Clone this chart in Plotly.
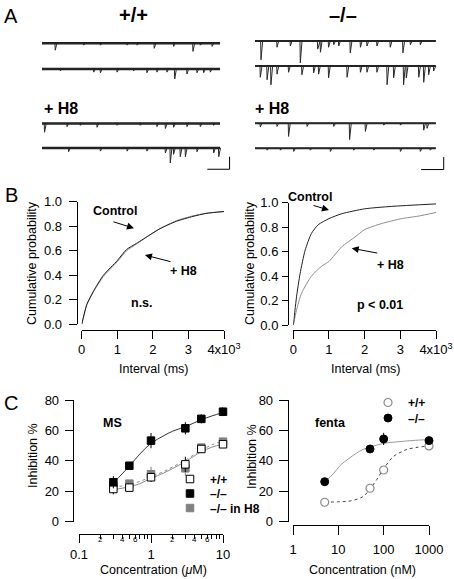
import numpy as np
import plotly.graph_objects as go

FONT = "Liberation Sans, Arial, Helvetica, sans-serif"
W, H = 454, 579


def fx(p):
    return p / W


def fy(p):
    return 1 - p / H


# ---------------- Panel A : spontaneous events (time in s, amplitude in pA) ----------------
WT_CTRL1_T = [0.58, 1.86, 2.61, 3.81, 4.26, 5.03, 5.90, 6.77, 7.10, 7.63]
WT_CTRL1_A = [11, 3, 3, 3, 3, 8, 5, 13, 3, 5]
WT_CTRL2_T = [0.81, 2.31, 2.61, 3.36, 4.10, 4.70, 5.15, 5.60, 5.95, 6.50, 6.95, 7.25, 7.55]
WT_CTRL2_A = [3, 5, 6, 5, 3, 6, 5, 5, 16, 8, 6, 6, 5]
WT_H8_1_T = [0.10, 1.11, 1.71, 2.46, 3.36, 4.40, 5.15, 5.53, 5.90, 6.50, 7.10, 7.70]
WT_H8_1_A = [14, 5, 3, 6, 3, 3, 5, 8, 6, 5, 5, 3]
WT_H8_2_T = [1.18, 2.61, 3.81, 4.70, 5.53, 5.75, 5.90, 6.20, 6.43, 6.95, 7.70, 7.93]
WT_H8_2_A = [6, 5, 5, 5, 8, 24, 10, 14, 14, 6, 8, 14]
KO_CTRL1_T = [0.25, 0.96, 1.55, 1.99, 2.76, 2.88, 3.24, 3.47, 3.69, 4.20, 4.65, 4.94, 5.38, 5.97, 6.53, 6.86, 7.30]
KO_CTRL1_A = [30, 10, 8, 35, 13, 18, 10, 6, 8, 19, 10, 8, 8, 10, 19, 6, 6]
KO_CTRL2_T = [0.22, 0.52, 0.69, 0.96, 1.47, 2.06, 2.58, 2.80, 3.24, 4.06, 4.65, 4.94, 5.38,
              5.83, 6.12, 6.56, 6.68, 7.23, 7.45, 7.67, 7.89]
KO_CTRL2_A = [18, 22, 30, 13, 10, 14, 11, 13, 19, 18, 10, 10, 10, 30, 19, 30, 19, 18, 26, 14, 8]
KO_H8_1_T = [0.22, 0.96, 1.47, 2.29, 3.47, 4.17, 4.87, 5.68, 6.42, 7.45, 7.60]
KO_H8_1_A = [6, 5, 21, 5, 5, 26, 13, 3, 3, 11, 8]
KO_H8_2_T = [0.52, 1.11, 1.70, 2.43, 3.32, 4.35, 5.24, 6.42, 7.30, 7.74]
KO_H8_2_A = [3, 3, 5, 3, 5, 3, 3, 5, 5, 3]
TRACE_DURATION_S = 8.0
SCALE_T_S = 1.0
SCALE_I_PA = 20

# ---------------- Panel B : cumulative probability of inter-event interval (ms) ----------------
B_WT_CTRL_T = [0, 50, 140, 330, 610, 1000, 1260, 1540, 1920, 2200, 2660, 3130, 3500, 4000]
B_WT_CTRL_P = [0, 0.06, 0.16, 0.27, 0.40, 0.52, 0.61, 0.66, 0.73, 0.78, 0.84, 0.88, 0.905, 0.92]
B_WT_H8_T = [0, 50, 140, 330, 610, 1000, 1260, 1540, 1920, 2200, 2660, 3130, 3500, 4000]
B_WT_H8_P = [0, 0.055, 0.155, 0.265, 0.39, 0.51, 0.60, 0.655, 0.73, 0.78, 0.845, 0.885, 0.905, 0.92]
B_KO_CTRL_T = [0, 47, 90, 190, 330, 510, 700, 1000, 1360, 2000, 2760, 4000]
B_KO_CTRL_P = [0, 0.12, 0.23, 0.42, 0.61, 0.75, 0.82, 0.87, 0.91, 0.95, 0.97, 0.99]
B_KO_H8_T = [0, 90, 230, 510, 790, 1000, 1360, 1730, 2000, 2480, 3040, 3500, 4000]
B_KO_H8_P = [0, 0.12, 0.26, 0.40, 0.48, 0.52, 0.64, 0.72, 0.78, 0.83, 0.87, 0.89, 0.92]
B_X_TICKS = [0, 1000, 2000, 3000, 4000]
B_X_TICKTEXT = ["0", "1", "2", "3", "4x10<sup>3</sup>"]
B_Y_TICKS = [0, 0.2, 0.4, 0.6, 0.8, 1.0]

# ---------------- Panel C : MS (uM) ----------------
MS_CONC = [0.3, 0.5, 1, 3, 5, 10]
MS_WT = [21.5, 22.4, 29.2, 37.7, 47.8, 50.9]
MS_WT_ERR = [3.5, 2, 3, 5, 2, 2]
MS_KO = [25.9, 36.8, 53.3, 61.4, 67.6, 72.3]
MS_KO_ERR = [4, 2, 5, 4, 3, 3]
MS_H8 = [23.5, 25.0, 31.2, 35.1, 48.7, 52.6]
MS_H8_ERR = [2, 2, 5, 5, 2, 2]
MS_FIT_CONC = [0.3, 0.5, 0.7, 1, 1.5, 2, 3, 5, 7, 10]
MS_FIT_KO = [25.5, 36.5, 44.5, 51.5, 56.5, 59.5, 62.5, 67, 69.5, 71.8]
MS_FIT_WT = [21, 23, 25, 28.5, 32, 35, 39.5, 46, 49, 51]
MS_FIT_H8 = [22.5, 24.5, 26.5, 29.5, 33, 36, 40.5, 47, 50.5, 53]
MS_MAJOR_TICKS = [0.1, 1, 10]
MS_MINOR_TICKS = [0.2, 0.3, 0.4, 0.5, 0.6, 0.7, 0.8, 0.9, 2, 3, 4, 5, 6, 7, 8, 9]
MS_MINOR_LABELS = [0.2, 0.4, 0.6, 2, 4, 6]

# ---------------- Panel C : fentanyl (nM) ----------------
FENTA_CONC = [5, 50, 100, 1000]
FENTA_WT = [12.8, 22.0, 34.0, 49.8]
FENTA_WT_ERR = [2, 2, 2, 3]
FENTA_KO = [26.3, 47.8, 54.4, 53.3]
FENTA_KO_ERR = [2, 2, 4, 2]
FENTA_FIT_KO_CONC = [5, 8, 11, 17, 25, 35, 50, 100, 200, 500, 1000]
FENTA_FIT_KO = [26, 32, 37, 41.5, 45, 47.5, 49, 51.5, 52.5, 53.5, 54]
FENTA_FIT_WT_CONC = [5, 10, 18, 35, 50, 70, 100, 163, 250, 325, 500, 1000]
FENTA_FIT_WT = [12.8, 13.1, 13.6, 16.5, 21.5, 27.6, 34.8, 42.8, 46, 47.5, 48.7, 49.8]
FENTA_TICKS = [1, 10, 100, 1000]
C_Y_TICKS = [0, 20, 40, 60, 80]

fig = go.Figure()
layout = dict(
    template="none",
    width=W, height=H, margin=dict(l=0, r=0, t=0, b=0, pad=0, autoexpand=False), autosize=False,
    paper_bgcolor="white", plot_bgcolor="rgba(0,0,0,0)",
    font=dict(family=FONT, size=13, color="black"),
    showlegend=True,
)


def event_trace(times, amps):
    xs, ys = [0.0], [0.0]
    for t, a in sorted(zip(times, amps)):
        xs += [t, t + 0.015, t + 0.09]
        ys += [0, -a, 0]
    xs.append(TRACE_DURATION_S)
    ys.append(0)
    return xs, ys


# ---- Panel A axes & traces ----
A_ROWS = [
    (WT_CTRL1_T, WT_CTRL1_A, 42, 22.25, 43.3),
    (WT_CTRL2_T, WT_CTRL2_A, 42, 22.25, 69.0),
    (WT_H8_1_T, WT_H8_1_A, 42, 22.25, 123.5),
    (WT_H8_2_T, WT_H8_2_A, 42, 22.25, 148.0),
    (KO_CTRL1_T, KO_CTRL1_A, 255, 22.6, 41.0),
    (KO_CTRL2_T, KO_CTRL2_A, 255, 22.6, 66.0),
    (KO_H8_1_T, KO_H8_1_A, 255, 22.6, 123.3),
    (KO_H8_2_T, KO_H8_2_A, 255, 22.6, 148.3),
]
PA_PER_PX = 1.6
for i, (tt, aa, x0, pps, base) in enumerate(A_ROWS, start=1):
    xn = "x" if i == 1 else f"x{i}"
    yn = "y" if i == 1 else f"y{i}"
    xk = "xaxis" if i == 1 else f"xaxis{i}"
    yk = "yaxis" if i == 1 else f"yaxis{i}"
    layout[xk] = dict(domain=[fx(x0), fx(x0 + 8.6 * pps)], range=[0, 8.6], visible=False,
                      anchor=yn, fixedrange=True, automargin=False)
    layout[yk] = dict(domain=[fy(base + 27), fy(base - 5)], range=[-27 * PA_PER_PX, 5 * PA_PER_PX],
                      visible=False, anchor=xn, fixedrange=True, automargin=False)
    # recording noise band along the baseline
    band = 2.4 if i <= 4 else 2.0
    fig.add_trace(go.Scatter(x=[0, TRACE_DURATION_S], y=[0, 0], mode="lines", xaxis=xn, yaxis=yn,
                             showlegend=False, line=dict(color="#1e1e1e", width=band), hoverinfo="skip"))
    xs, ys = event_trace(tt, aa)
    fig.add_trace(go.Scatter(x=xs, y=ys, mode="lines", xaxis=xn, yaxis=yn, showlegend=False,
                             line=dict(color="#2a2a2a", width=1), hoverinfo="skip"))
    if i in (4, 8):
        sx = 7.43 if i == 4 else 7.35
        fig.add_trace(go.Scatter(
            x=[sx, sx + SCALE_T_S, sx + SCALE_T_S],
            y=[-14 - SCALE_I_PA, -14 - SCALE_I_PA, -14],
            mode="lines", xaxis=xn, yaxis=yn, showlegend=False,
            line=dict(color="black", width=1), hoverinfo="skip"))


# ---- common axis style ----
def ax_style(**kw):
    d = dict(showline=True, linecolor="black", linewidth=1, ticks="outside", tickcolor="black",
             tickwidth=1, showgrid=False, zeroline=False, anchor="free", fixedrange=True,
             automargin=False, tickfont=dict(family=FONT, size=13, color="black"))
    d.update(kw)
    return d


# Panel B left (x9/y9)
layout["xaxis9"] = ax_style(domain=[fx(81.7), fx(224)], range=[0, 4000], position=fy(329.5),
                            tickvals=B_X_TICKS, ticktext=B_X_TICKTEXT, ticklen=8)
layout["yaxis9"] = ax_style(domain=[fy(324.3), fy(201.7)], range=[0, 1], position=fx(76.7),
                            tickvals=B_Y_TICKS, tickformat=".1f", ticklen=8, ticklabelstandoff=4)
# Panel B right (x10/y10)
layout["xaxis10"] = ax_style(domain=[fx(293.3), fx(436)], range=[0, 4000], position=fy(329.5),
                             tickvals=B_X_TICKS, ticktext=B_X_TICKTEXT, ticklen=8)
layout["yaxis10"] = ax_style(domain=[fy(325), fy(202.7)], range=[0, 1], position=fx(288),
                             tickvals=B_Y_TICKS, tickformat=".1f", ticklen=6, ticklabelstandoff=1)
# Panel C left (x11/y11)
layout["xaxis11"] = ax_style(type="log", domain=[fx(79), fx(223)], range=[-1, 1], position=fy(534.3),
                             tickvals=MS_MAJOR_TICKS, ticktext=["0.1", "1", "10"], ticklen=8,
                             minor=dict(tickvals=MS_MINOR_TICKS, ticklen=4, ticks="outside",
                                        tickcolor="black", tickwidth=1, showgrid=False))
layout["yaxis11"] = ax_style(domain=[fy(521.7), fy(400)], range=[0, 80], position=fx(72.7),
                             tickvals=C_Y_TICKS, ticklen=8, ticklabelstandoff=3)
# Panel C right (x12/y12)
layout["xaxis12"] = ax_style(type="log", domain=[fx(293), fx(429)], range=[0, 3], position=fy(525),
                             tickvals=FENTA_TICKS, ticktext=["1", "10", "100", "1000"], ticklen=9,
                             ticklabelstandoff=3)
layout["yaxis12"] = ax_style(domain=[fy(521.7), fy(400)], range=[0, 80], position=fx(287.7),
                             tickvals=C_Y_TICKS, ticklen=9, ticklabelstandoff=3)

# ---- Panel B curves ----
for (t, p, col, xa, ya) in [
    (B_WT_H8_T, B_WT_H8_P, "#8c8c8c", "x9", "y9"),
    (B_WT_CTRL_T, B_WT_CTRL_P, "#202020", "x9", "y9"),
    (B_KO_H8_T, B_KO_H8_P, "#8c8c8c", "x10", "y10"),
    (B_KO_CTRL_T, B_KO_CTRL_P, "#202020", "x10", "y10"),
]:
    fig.add_trace(go.Scatter(x=t, y=p, mode="lines", line=dict(color=col, width=1, shape="spline",
                                                                  smoothing=0.6),
                             xaxis=xa, yaxis=ya, showlegend=False, hoverinfo="skip"))

# ---- Panel C MS ----
fig.add_trace(go.Scatter(x=MS_FIT_CONC, y=MS_FIT_WT, mode="lines", xaxis="x11", yaxis="y11",
                         line=dict(color="#8a8a8a", width=1, shape="spline"), showlegend=False))
fig.add_trace(go.Scatter(x=MS_FIT_CONC, y=MS_FIT_H8, mode="lines", xaxis="x11", yaxis="y11",
                         line=dict(color="#8a8a8a", width=1, dash="dot", shape="spline"), showlegend=False))
fig.add_trace(go.Scatter(x=MS_FIT_CONC, y=MS_FIT_KO, mode="lines", xaxis="x11", yaxis="y11",
                         line=dict(color="#333333", width=1, shape="spline"), showlegend=False))


def err(arr, col="black"):
    return dict(type="data", array=arr, visible=True, color=col, thickness=1, width=0)


SQ = 7.5
CI = 8
fig.add_trace(go.Scatter(x=MS_CONC, y=MS_H8, mode="markers", xaxis="x11", yaxis="y11",
                         name="<b>–/– in H8</b>", legend="legend3", cliponaxis=False,
                         error_y=err(MS_H8_ERR, "#808080"),
                         marker=dict(symbol="square", size=SQ, color="#808080",
                                     line=dict(color="#808080", width=1))))
fig.add_trace(go.Scatter(x=MS_CONC, y=MS_WT, mode="markers", xaxis="x11", yaxis="y11",
                         name="<b>+/+</b>", legend="legend", cliponaxis=False,
                         error_y=err(MS_WT_ERR),
                         marker=dict(symbol="square", size=SQ, color="white",
                                     line=dict(color="black", width=1))))
fig.add_trace(go.Scatter(x=MS_CONC, y=MS_KO, mode="markers", xaxis="x11", yaxis="y11",
                         name="<b>–/–</b>", legend="legend2", cliponaxis=False,
                         error_y=err(MS_KO_ERR),
                         marker=dict(symbol="square", size=SQ, color="black",
                                     line=dict(color="black", width=1))))

# ---- Panel C fenta ----
fig.add_trace(go.Scatter(x=FENTA_FIT_KO_CONC, y=FENTA_FIT_KO, mode="lines", xaxis="x12", yaxis="y12",
                         line=dict(color="#9a9a9a", width=1, shape="spline"), showlegend=False))
fig.add_trace(go.Scatter(x=FENTA_FIT_WT_CONC, y=FENTA_FIT_WT, mode="lines", xaxis="x12", yaxis="y12",
                         line=dict(color="#404040", width=1, dash="dot", shape="spline"), showlegend=False))
fig.add_trace(go.Scatter(x=FENTA_CONC, y=FENTA_WT, mode="markers", xaxis="x12", yaxis="y12",
                         name="<b>+/+</b>", legend="legend4", cliponaxis=False,
                         error_y=err(FENTA_WT_ERR, "#808080"),
                         marker=dict(symbol="circle", size=CI, color="white",
                                     line=dict(color="#8a8a8a", width=1.2))))
fig.add_trace(go.Scatter(x=FENTA_CONC, y=FENTA_KO, mode="markers", xaxis="x12", yaxis="y12",
                         name="<b>–/–</b>", legend="legend5", cliponaxis=False,
                         error_y=err(FENTA_KO_ERR),
                         marker=dict(symbol="circle", size=CI, color="black",
                                     line=dict(color="black", width=1))))


def leg(sx, sy):
    return dict(x=fx(sx - 20), y=fy(sy), xanchor="left", yanchor="middle",
                bgcolor="rgba(0,0,0,0)", borderwidth=0,
                font=dict(family=FONT, size=12, color="black"), itemclick=False,
                itemdoubleclick=False)


layout["legend"] = leg(190, 479)
layout["legend2"] = leg(190, 493.5)
layout["legend3"] = leg(190, 508)
layout["legend4"] = leg(388, 402.5)
layout["legend5"] = leg(388, 418)

# ---- annotations ----
ann = []


def txt(text, x, y, size=13, bold=False, xanchor="center", angle=0, color="black"):
    ann.append(dict(text=f"<b>{text}</b>" if bold else text, x=fx(x), y=fy(y), xref="paper",
                    yref="paper", showarrow=False, xanchor=xanchor, yanchor="middle",
                    textangle=angle, font=dict(family=FONT, size=size, color=color)))


# panel letters
txt("A", 11, 16, size=20)
txt("B", 11, 195, size=20)
txt("C", 11, 403, size=20)
# panel A labels
txt("+/+", 133, 15, size=20, bold=True)
txt("–/–", 343, 15, size=20, bold=True)
txt("+ H8", 42, 109, size=16, bold=True, xanchor="left")
txt("+ H8", 253, 109, size=16, bold=True, xanchor="left")
# panel B labels
txt("Control", 115, 211, size=12.5, bold=True)
txt("+ H8", 183, 271, size=12.5, bold=True)
txt("n.s.", 141.7, 303, size=12.5, bold=True)
txt("Control", 310, 197, size=12.5, bold=True)
txt("+ H8", 390, 265, size=12.5, bold=True)
txt("p < 0.01", 380, 305, size=12.5, bold=True)
txt("Cumulative probability", 32, 263, size=12.5, angle=-90)
txt("Cumulative probability", 250, 263, size=12.5, angle=-90)
txt("Interval (ms)", 153, 369, size=12.5)
txt("Interval (ms)", 365, 369, size=12.5)
# panel C labels
txt("MS", 112.7, 423, size=12.5, bold=True)
txt("fenta", 330, 423, size=12.5, bold=True)
txt("Inhibition %", 33, 456, size=12.5, angle=-90)
txt("Inhibition %", 252, 457, size=12.5, angle=-90)
txt("Concentration (<i>μ</i>M)", 153, 570, size=12.5)
txt("Concentration (nM)", 362, 570, size=12.5)

# minor tick labels on the MS log axis
for v in MS_MINOR_LABELS:
    ann.append(dict(text=str(int(v)) if v >= 1 else str(int(round(v * 10))), x=np.log10(v),
                    xref="x11", y=fy(539), yref="paper", showarrow=False, xanchor="center",
                    yanchor="middle", font=dict(family=FONT, size=8, color="black")))


# arrows in panel B (tip at data point, tail offset in px)
def arrow(xa, ya, x, y, ax, ay):
    ann.append(dict(text="", x=x, y=y, xref=xa, yref=ya, ax=ax, ay=ay, showarrow=True,
                    arrowhead=2, arrowsize=1.4, arrowwidth=1, arrowcolor="black"))


arrow("x9", "y9", 1469, 0.783, -22, -7)
arrow("x9", "y9", 1778, 0.565, 27, 7)
arrow("x10", "y10", 1000, 0.94, -17, -5)
arrow("x10", "y10", 1637, 0.627, 27, 5)

layout["annotations"] = ann
fig.update_layout(**layout)
fig.write_html(
    "out.html",
    config={"responsive": False, "displayModeBar": False},
    post_script=("document.documentElement.style.margin='0';document.body.style.margin='0';"
                 "document.body.style.padding='0';document.body.style.overflow='hidden';"
                 "document.documentElement.style.overflow='hidden';"),
)
